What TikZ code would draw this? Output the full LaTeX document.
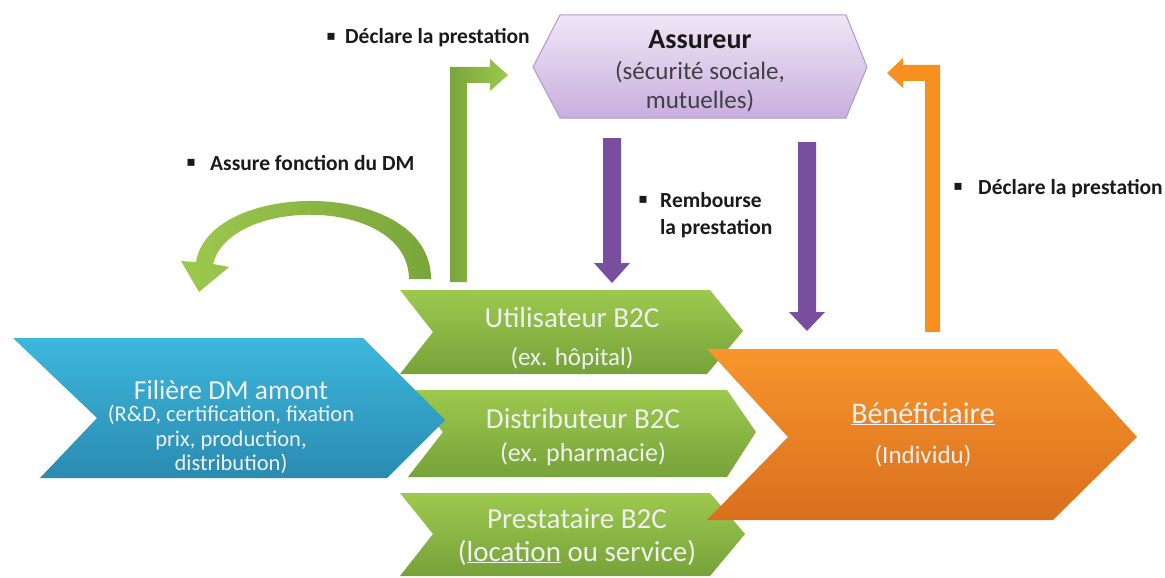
\documentclass[tikz,border=0pt]{standalone}
\usepackage{fontspec}
\setmainfont{Carlito}
\newfontfamily\symfont{DejaVu Sans}
\usetikzlibrary{arrows.meta}
\newcommand\myfs[2]{\fontsize{#1}{#2}\selectfont}
\definecolor{gtop}{HTML}{9DC94E}
\definecolor{gbot}{HTML}{76A23A}
\definecolor{btop}{HTML}{3DB7DC}
\definecolor{bbot}{HTML}{2A8BB0}
\definecolor{otop}{HTML}{F8962C}
\definecolor{obot}{HTML}{D86F1E}
\definecolor{ptop}{HTML}{F0E6F6}
\definecolor{pbot}{HTML}{C8AEDE}
\definecolor{pline}{HTML}{B198CE}
\definecolor{parrow}{HTML}{7A4E9E}
\definecolor{oarrow}{HTML}{F7901E}
\definecolor{garrowd}{HTML}{7AA53B}
\definecolor{garrowl}{HTML}{9DC94E}
\definecolor{lbl}{HTML}{1A1A1A}
\begin{document}
\begin{tikzpicture}[x=1pt,y=-1pt,
  greenchev/.style={top color=gtop,bottom color=gbot,draw=none},
  chevtext/.style={text=white!94!black,anchor=base,inner sep=0pt,align=center},
  bullet/.style={text=lbl,inner sep=0pt,anchor=center,font=\symfont\myfs{14}{14}},
  lbltext/.style={text=lbl,inner sep=0pt,anchor=base west,align=left,font=\bfseries\myfs{21.5}{27}},
  purplearrow/.style={fill=parrow,draw=none}
]
\useasboundingbox (0,0) rectangle (1165,578);
\fill[white] (0,0) rectangle (1165,578);

% green chevrons
\path[greenchev] (400,290) -- (710,290) -- (743,331) -- (707,374) -- (400,374) -- (433,332) -- cycle;
\path[greenchev] (408,390) -- (727,390) -- (756,432) -- (727,477) -- (408,477) -- (443,432) -- cycle;
\path[greenchev] (400,493) -- (710,493) -- (745,534) -- (710,576) -- (400,576) -- (433,534) -- cycle;

% blue chevron
\path[top color=btop,bottom color=bbot] (13,338) -- (363,338) -- (445,420) -- (387,478) -- (40,478) -- (97,418) -- cycle;

% orange chevron
\path[top color=otop,bottom color=obot] (707,349) -- (1057,349) -- (1137,437) -- (1053,520) -- (707,520) -- (788,437) -- cycle;

% Assureur hexagon
\path[top color=ptop,bottom color=pbot,draw=pline,line width=1pt] (533,67) -- (560,15) -- (846,15) -- (867,67) -- (846,118) -- (560,118) -- cycle;

% texts in shapes
\node[chevtext,font=\myfs{27.5}{30}] (filT) at (231,399) {Filière DM amont};
\node[chevtext,font=\myfs{22.5}{24.5},anchor=north] (filS) at (231,405) {(R\&D, certification, fixation\\prix, production,\\distribution)};

\node[chevtext,font=\myfs{29}{32}] (utiT) at (572,327) {Utilisateur B2C};
\node[chevtext,font=\myfs{25}{28}] (utiS) at (572,365) {(ex. hôpital)};
\node[chevtext,font=\myfs{29}{32}] (disT) at (583,428) {Distributeur B2C};
\node[chevtext,font=\myfs{26}{28}] (disS) at (583,461) {(ex. pharmacie)};
\node[chevtext,font=\myfs{29}{32}] (preT) at (577,528) {Prestataire B2C};
\node[chevtext,font=\myfs{29}{32}] (preS) at (577,561) {(\underline{location} ou service)};

\node[chevtext,font=\myfs{30}{32}] (benT) at (923,423) {\underline{Bénéficiaire}};
\node[chevtext,font=\myfs{25}{28}] (benS) at (923,463) {(Individu)};

\node[anchor=base,inner sep=0pt,text=black!90,font=\bfseries\myfs{28}{30}] (assT) at (700,49) {Assureur};
\node[anchor=base,inner sep=0pt,text=black!75,font=\myfs{25}{28}] (assS1) at (700,80) {(sécurité sociale,};
\node[anchor=base,inner sep=0pt,text=black!75,font=\myfs{25}{28}] (assS2) at (700,108) {mutuelles)};

% curved green arrow
\path[left color=garrowl,right color=garrowd] (431,279) .. controls (431,178) and (210,178) .. (196,262) -- (181,261) -- (199,292) -- (229,267) -- (213,264) .. controls (230,196) and (408,196) .. (409,279) -- cycle;

% green elbow arrow
\path[left color=garrowd,right color=garrowl] (450,282) -- (450,67) -- (490,67) -- (490,59) -- (508,75) -- (490,91) -- (490,83) -- (467,83) -- (467,282) -- cycle;

% orange elbow arrow
\path[fill=oarrow] (940,332) -- (940,65) -- (903,65) -- (903,58) -- (887,73) -- (903,88) -- (903,81) -- (925,81) -- (925,332) -- cycle;

% purple arrows
\path[purplearrow] (603,138) -- (621,138) -- (621,263) -- (630,263) -- (612,283) -- (594,263) -- (603,263) -- cycle;
\path[purplearrow] (798,142) -- (816,142) -- (816,312) -- (825,312) -- (807,331) -- (789,312) -- (798,312) -- cycle;

% labels
\node[bullet] (b1) at (331,37) {▪};
\node[lbltext] (l1) at (345,44) {Déclare la prestation};
\node[bullet] (b2) at (191,163) {▪};
\node[lbltext] (l2) at (210,170) {Assure fonction du DM};
\node[bullet] (b3) at (643,200) {▪};
\node[lbltext] (l3) at (660,234) {Rembourse\\la prestation};
\node[bullet] (b4) at (958,187) {▪};
\node[lbltext] (l4) at (978,194) {Déclare la prestation};
\end{tikzpicture}
\end{document}
